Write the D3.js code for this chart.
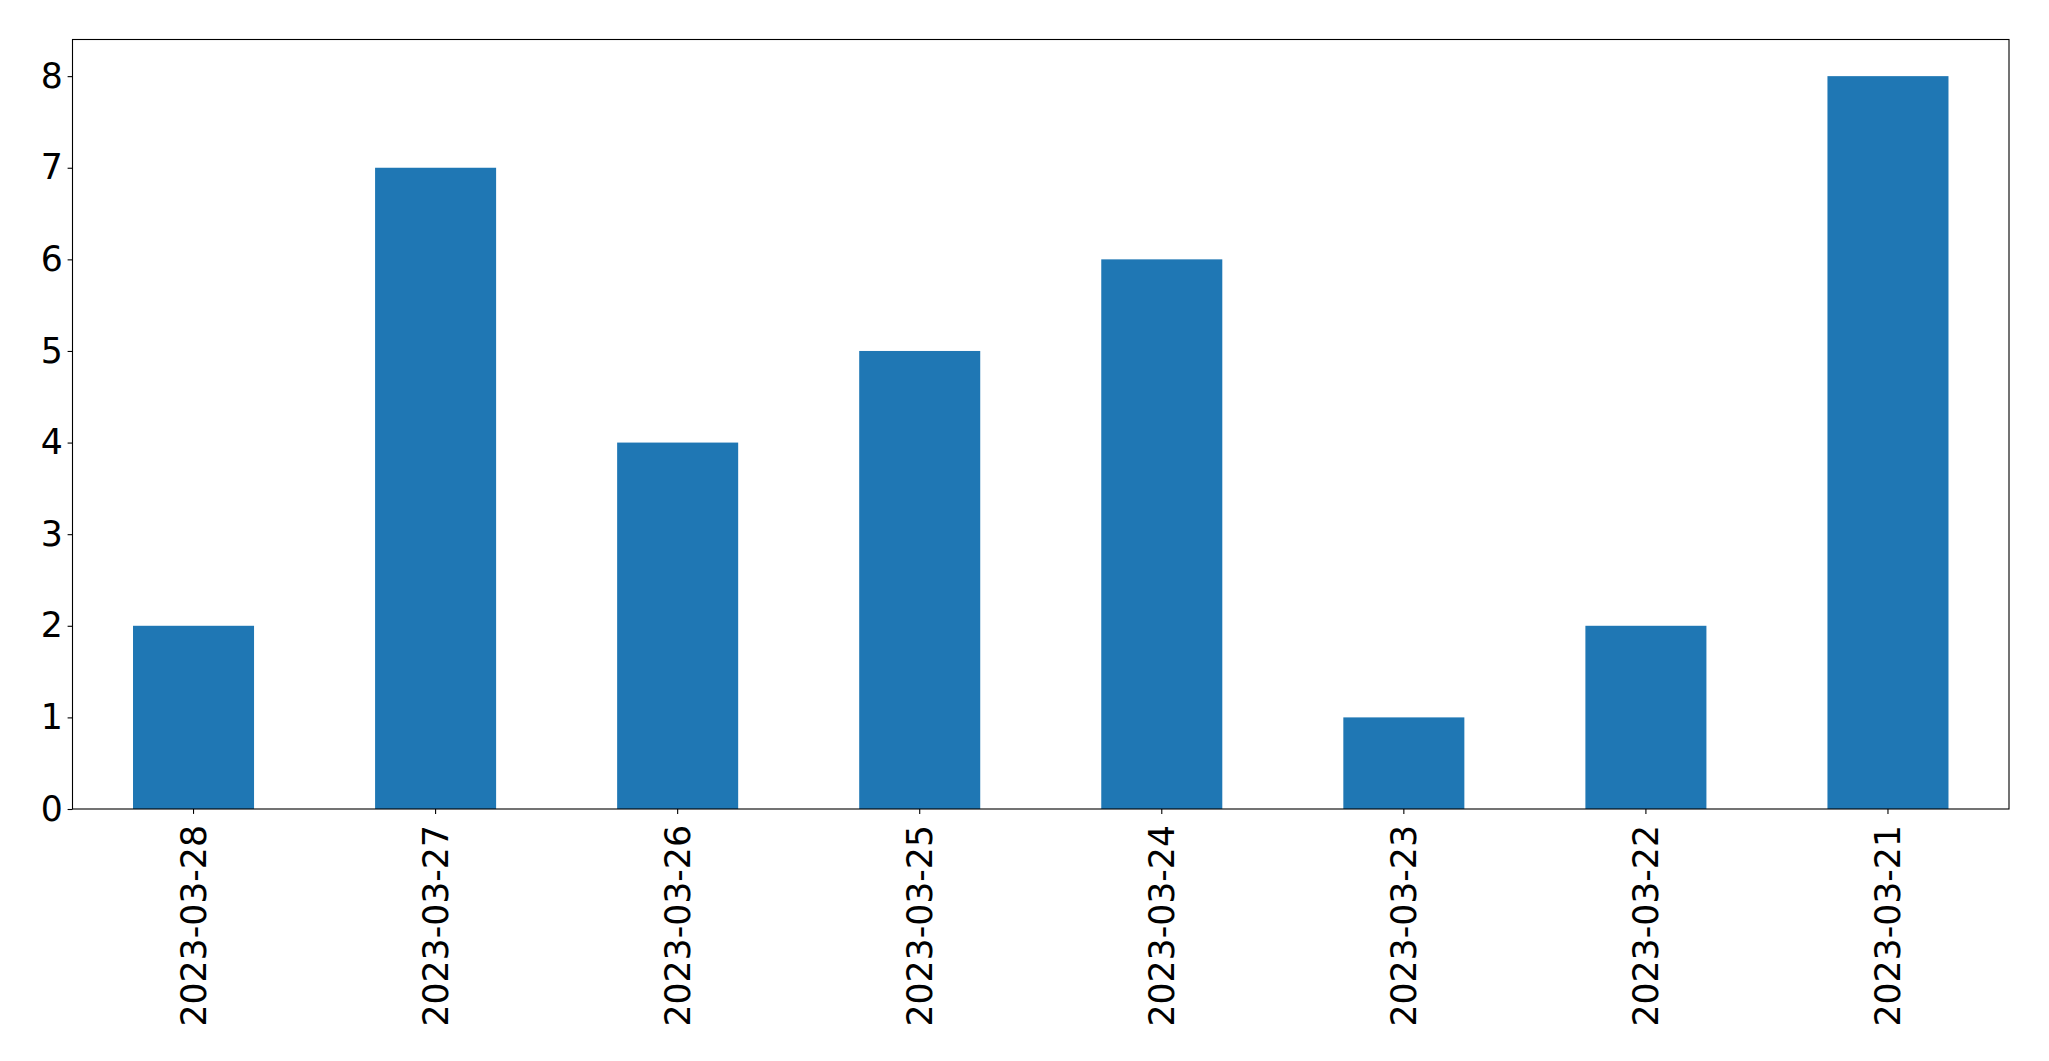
<!DOCTYPE html>
<html><head><meta charset="utf-8">
<script src="https://cdn.jsdelivr.net/npm/d3@7"></script>
<style>body{margin:0;background:#fff}svg{display:block}</style>
</head><body>
<script>
const categories = ["2023-03-28","2023-03-27","2023-03-26","2023-03-25","2023-03-24","2023-03-23","2023-03-22","2023-03-21"];
const values = [2,7,4,5,6,1,2,8];
const yTicks = [0,1,2,3,4,5,6,7,8];

const W = 2049, H = 1061;
const m = {left:72.5, right:2049-2009, top:39.5, bottom:1061-809};
const svg = d3.select("body").append("svg").attr("width",W).attr("height",H);
const pw = W - m.left - m.right, ph = H - m.top - m.bottom;
const g = svg.append("g").attr("transform",`translate(${m.left},${m.top})`);

const x = d3.scaleBand().domain(categories).range([0,pw]).paddingInner(0.5).paddingOuter(0.25);
const y = d3.scaleLinear().domain([0,8.4]).range([ph,0]);

g.selectAll("rect.bar").data(values).join("rect").attr("class","bar")
  .attr("x",(d,i)=>x(categories[i])).attr("width",x.bandwidth())
  .attr("y",d=>y(d)).attr("height",d=>ph-y(d)).attr("fill","#1f77b4");

const font = "DejaVu Sans, sans-serif";
const xa = g.append("g").attr("transform",`translate(0,${ph})`)
  .call(d3.axisBottom(x).tickSize(4.9).tickPadding(4.9));
xa.selectAll("text").attr("transform","rotate(-90)").attr("text-anchor","end")
  .attr("dx","-16").attr("dy","0.36em").attr("y",0).attr("x",0);
const ya = g.append("g").call(d3.axisLeft(y).tickValues(yTicks).tickFormat(d3.format("d")).tickSize(4.9).tickPadding(4.9));
[xa,ya].forEach(a=>{
  a.select(".domain").remove();
  a.selectAll("line").attr("stroke","#000").attr("stroke-width",1.1);
  a.selectAll("text").attr("font-family",font).attr("font-size","34.7px").attr("fill","#000");
});
g.append("rect").attr("x",0).attr("y",0).attr("width",pw).attr("height",ph)
  .attr("fill","none").attr("stroke","#000").attr("stroke-width",1.1);
</script>
</body></html>
